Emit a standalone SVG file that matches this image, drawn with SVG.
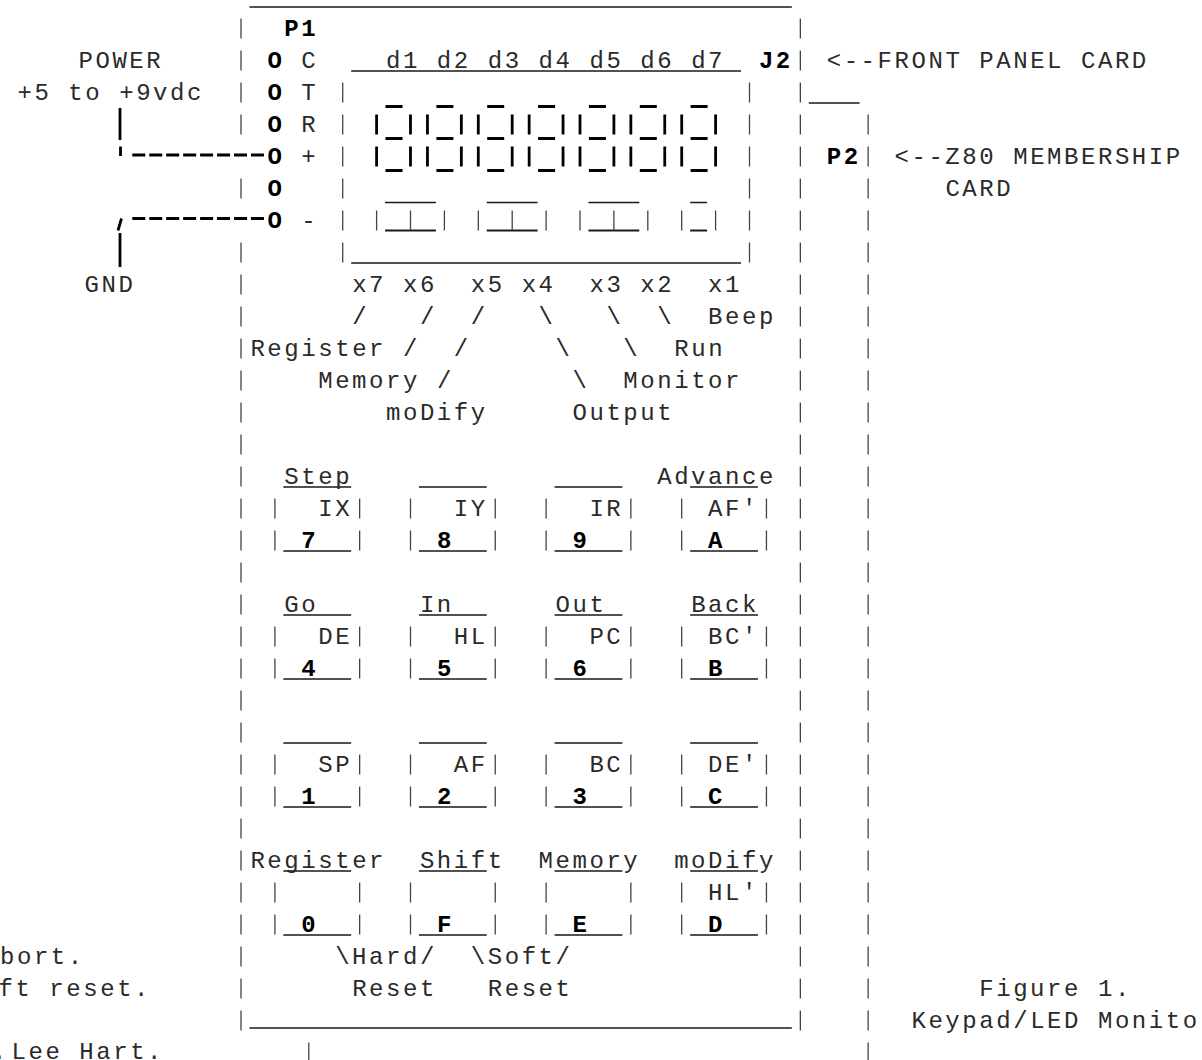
<svg xmlns="http://www.w3.org/2000/svg" width="1202" height="1060" viewBox="0 0 1202 1060">
<defs>
<style>
.t{font-family:"Liberation Mono","Courier New",monospace;font-size:24px;letter-spacing:2.55px;fill:#2a2a2a}
.b{font-weight:700;fill:#000}
.ul{stroke:#1a1a1a;stroke-width:1.7;fill:none}
.bar{stroke:#444;stroke-width:1.3;fill:none;stroke-dasharray:20 12}
.bb{stroke:#000;stroke-width:2.8;fill:none;stroke-dasharray:20 12}
.seg{stroke:#000;stroke-width:2.8;fill:none}
.wire{stroke:#000;stroke-width:2.8;fill:none}
.dash{stroke:#000;stroke-width:2.8;fill:none;stroke-dasharray:13 3.95}
</style>
</defs>
<rect width="1202" height="1060" fill="#fff"/>

<g id="front-panel-card">
<path class="ul" d="M249.45 7H791.85M249.45 1028H791.85"/>
<path class="bar" d="M241 18.5V134.5M241 178.5V198.5M241 242.5V1030.5M800.35 18.5V1030.5"/>
<text class="t b" x="284.33" y="36">P1</text>
<text class="t b" x="758.93" y="68">J2</text>
<text class="t" x="826.73" y="68">&lt;--FRONT PANEL CARD</text>
</g>

<g id="z80-membership-card">
<path class="ul" d="M808.8 103H859.65"/>
<path class="bar" d="M868.15 114.5V1062.5M308.8 1042.5V1062.5"/>
<text class="t b" x="826.73" y="164">P2</text>
<text class="t" x="894.53" y="164">&lt;--Z80 MEMBERSHIP</text>
<text class="t" x="945.38" y="196">CARD</text>
</g>

<g id="p1-connector">
<text class="t b" x="267.38" y="68">O</text>
<text class="t b" x="267.38" y="100">O</text>
<text class="t b" x="267.38" y="132">O</text>
<text class="t b" x="267.38" y="164">O</text>
<text class="t b" x="267.38" y="196">O</text>
<text class="t b" x="267.38" y="228">O</text>
<text class="t" x="301.28" y="68">C</text>
<text class="t" x="301.28" y="100">T</text>
<text class="t" x="301.28" y="132">R</text>
<text class="t" x="301.28" y="164">+</text>
<text class="t" x="301.28" y="228">-</text>
</g>

<g id="power">
<text class="t" x="78.5" y="68">POWER</text>
<text class="t" x="17.5" y="100" xml:space="preserve">+5 to +9vdc</text>
</g>

<g id="gnd">
<text class="t" x="84.5" y="292">GND</text>
</g>

<g id="led-display">
<path class="bar" d="M342.7 82.5V262.5M749.5 82.5V262.5"/>
<path class="ul" d="M351.15 71H741M351.15 263H741"/>
<text class="t" x="386.03" y="68" xml:space="preserve">d1 d2 d3 d4 d5 d6 d7</text>
<path class="seg" d="M385.5 106.5h17M436.4 106.5h17M487.2 106.5h17M538.1 106.5h17M588.9 106.5h17M639.8 106.5h17M690.6 106.5h17M385.5 138.5h17M436.4 138.5h17M487.2 138.5h17M538.1 138.5h17M588.9 138.5h17M639.8 138.5h17M690.6 138.5h17M385.5 170.5h17M436.4 170.5h17M487.2 170.5h17M538.1 170.5h17M588.9 170.5h17M639.8 170.5h17M690.6 170.5h17"/>
<path class="bb" d="M376.6 114.5V166.5M410.5 114.5V166.5M427.45 114.5V166.5M461.35 114.5V166.5M478.3 114.5V166.5M512.2 114.5V166.5M529.15 114.5V166.5M563.05 114.5V166.5M580 114.5V166.5M613.9 114.5V166.5M630.85 114.5V166.5M664.75 114.5V166.5M681.7 114.5V166.5M715.6 114.5V166.5"/>
<path class="ul" d="M385.05 202.5H435.9M486.75 202.5H537.6M588.45 202.5H639.3M690.15 202.5H707.1"/>
<path class="ul" style="stroke-width:2" d="M385.05 230.5H435.9M486.75 230.5H537.6M588.45 230.5H639.3M690.15 230.5H707.1"/>
<path class="bar" d="M376.6 210.5V230.5M410.5 210.5V230.5M444.4 210.5V230.5M478.3 210.5V230.5M512.2 210.5V230.5M546.1 210.5V230.5M580 210.5V230.5M613.9 210.5V230.5M647.8 210.5V230.5M681.7 210.5V230.5M715.6 210.5V230.5"/>
<text class="t" x="352.13" y="292" xml:space="preserve">x7 x6  x5 x4  x3 x2  x1</text>
</g>

<g id="function-labels">
<text class="t" x="352.13" y="324" xml:space="preserve">/   /  /   \   \  \  Beep</text>
<text class="t" x="250.43" y="356" xml:space="preserve">Register /  /     \   \  Run</text>
<text class="t" x="318.23" y="388" xml:space="preserve">Memory /       \  Monitor</text>
<text class="t" x="386.03" y="420" xml:space="preserve">moDify     Output</text>
</g>

<g id="keypad">
<g id="key-7">
<path class="bar" d="M274.9 498.5V550.5M359.65 498.5V550.5"/>
<path class="ul" d="M283.35 487H351.15M283.35 551H351.15"/>
<text class="t" x="284.33" y="484">Step</text>
<text class="t" x="318.23" y="516">IX</text>
<text class="t b" x="301.28" y="548">7</text>
</g>
<g id="key-8">
<path class="bar" d="M410.5 498.5V550.5M495.25 498.5V550.5"/>
<path class="ul" d="M418.95 487H486.75M418.95 551H486.75"/>
<text class="t" x="453.83" y="516">IY</text>
<text class="t b" x="436.88" y="548">8</text>
</g>
<g id="key-9">
<path class="bar" d="M546.1 498.5V550.5M630.85 498.5V550.5"/>
<path class="ul" d="M554.55 487H622.35M554.55 551H622.35"/>
<text class="t" x="589.43" y="516">IR</text>
<text class="t b" x="572.48" y="548">9</text>
</g>
<g id="key-A">
<path class="bar" d="M681.7 498.5V550.5M766.45 498.5V550.5"/>
<path class="ul" d="M690.15 487H757.95M690.15 551H757.95"/>
<text class="t" x="657.23" y="484">Advance</text>
<text class="t" x="708.08" y="516">AF'</text>
<text class="t b" x="708.08" y="548">A</text>
</g>

<g id="key-4">
<path class="bar" d="M274.9 626.5V678.5M359.65 626.5V678.5"/>
<path class="ul" d="M283.35 615H351.15M283.35 679H351.15"/>
<text class="t" x="284.33" y="612">Go</text>
<text class="t" x="318.23" y="644">DE</text>
<text class="t b" x="301.28" y="676">4</text>
</g>
<g id="key-5">
<path class="bar" d="M410.5 626.5V678.5M495.25 626.5V678.5"/>
<path class="ul" d="M418.95 615H486.75M418.95 679H486.75"/>
<text class="t" x="419.93" y="612">In</text>
<text class="t" x="453.83" y="644">HL</text>
<text class="t b" x="436.88" y="676">5</text>
</g>
<g id="key-6">
<path class="bar" d="M546.1 626.5V678.5M630.85 626.5V678.5"/>
<path class="ul" d="M554.55 615H622.35M554.55 679H622.35"/>
<text class="t" x="555.53" y="612">Out</text>
<text class="t" x="589.43" y="644">PC</text>
<text class="t b" x="572.48" y="676">6</text>
</g>
<g id="key-B">
<path class="bar" d="M681.7 626.5V678.5M766.45 626.5V678.5"/>
<path class="ul" d="M690.15 615H757.95M690.15 679H757.95"/>
<text class="t" x="691.13" y="612">Back</text>
<text class="t" x="708.08" y="644">BC'</text>
<text class="t b" x="708.08" y="676">B</text>
</g>

<g id="key-1">
<path class="bar" d="M274.9 754.5V806.5M359.65 754.5V806.5"/>
<path class="ul" d="M283.35 743H351.15M283.35 807H351.15"/>
<text class="t" x="318.23" y="772">SP</text>
<text class="t b" x="301.28" y="804">1</text>
</g>
<g id="key-2">
<path class="bar" d="M410.5 754.5V806.5M495.25 754.5V806.5"/>
<path class="ul" d="M418.95 743H486.75M418.95 807H486.75"/>
<text class="t" x="453.83" y="772">AF</text>
<text class="t b" x="436.88" y="804">2</text>
</g>
<g id="key-3">
<path class="bar" d="M546.1 754.5V806.5M630.85 754.5V806.5"/>
<path class="ul" d="M554.55 743H622.35M554.55 807H622.35"/>
<text class="t" x="589.43" y="772">BC</text>
<text class="t b" x="572.48" y="804">3</text>
</g>
<g id="key-C">
<path class="bar" d="M681.7 754.5V806.5M766.45 754.5V806.5"/>
<path class="ul" d="M690.15 743H757.95M690.15 807H757.95"/>
<text class="t" x="708.08" y="772">DE'</text>
<text class="t b" x="708.08" y="804">C</text>
</g>

<g id="key-0">
<path class="bar" d="M274.9 882.5V934.5M359.65 882.5V934.5"/>
<path class="ul" d="M283.35 871H351.15M283.35 935H351.15"/>
<text class="t" x="250.43" y="868">Register</text>
<text class="t b" x="301.28" y="932">0</text>
</g>
<g id="key-F">
<path class="bar" d="M410.5 882.5V934.5M495.25 882.5V934.5"/>
<path class="ul" d="M418.95 871H486.75M418.95 935H486.75"/>
<text class="t" x="419.93" y="868">Shift</text>
<text class="t b" x="436.88" y="932">F</text>
</g>
<g id="key-E">
<path class="bar" d="M546.1 882.5V934.5M630.85 882.5V934.5"/>
<path class="ul" d="M554.55 871H622.35M554.55 935H622.35"/>
<text class="t" x="538.58" y="868">Memory</text>
<text class="t b" x="572.48" y="932">E</text>
</g>
<g id="key-D">
<path class="bar" d="M681.7 882.5V934.5M766.45 882.5V934.5"/>
<path class="ul" d="M690.15 871H757.95M690.15 935H757.95"/>
<text class="t" x="674.18" y="868">moDify</text>
<text class="t" x="708.08" y="900">HL'</text>
<text class="t b" x="708.08" y="932">D</text>
</g>
</g>

<g id="reset-labels">
<text class="t" x="335.18" y="964" xml:space="preserve">\Hard/  \Soft/</text>
<text class="t" x="352.13" y="996" xml:space="preserve">Reset   Reset</text>
</g>

<g id="notes">
<text class="t" x="0" y="964">bort.</text>
<text class="t" x="-1.5" y="996" xml:space="preserve">ft reset.</text>
<text class="t" x="-8" y="1058.5">.</text>
<text class="t" x="11.5" y="1058.5" xml:space="preserve">Lee Hart.</text>
<text class="t" x="979.28" y="996" xml:space="preserve">Figure 1.</text>
<text class="t" x="911.48" y="1028" xml:space="preserve">Keypad/LED Monito</text>
</g>

<g id="connectors">
<path class="wire" d="M120 108V140M120.5 146.5V156M121.5 218.5L118 230.5M120 233V267"/>
<path class="dash" d="M132.3 155H264M132.3 218.5H264"/>
</g>
</svg>
